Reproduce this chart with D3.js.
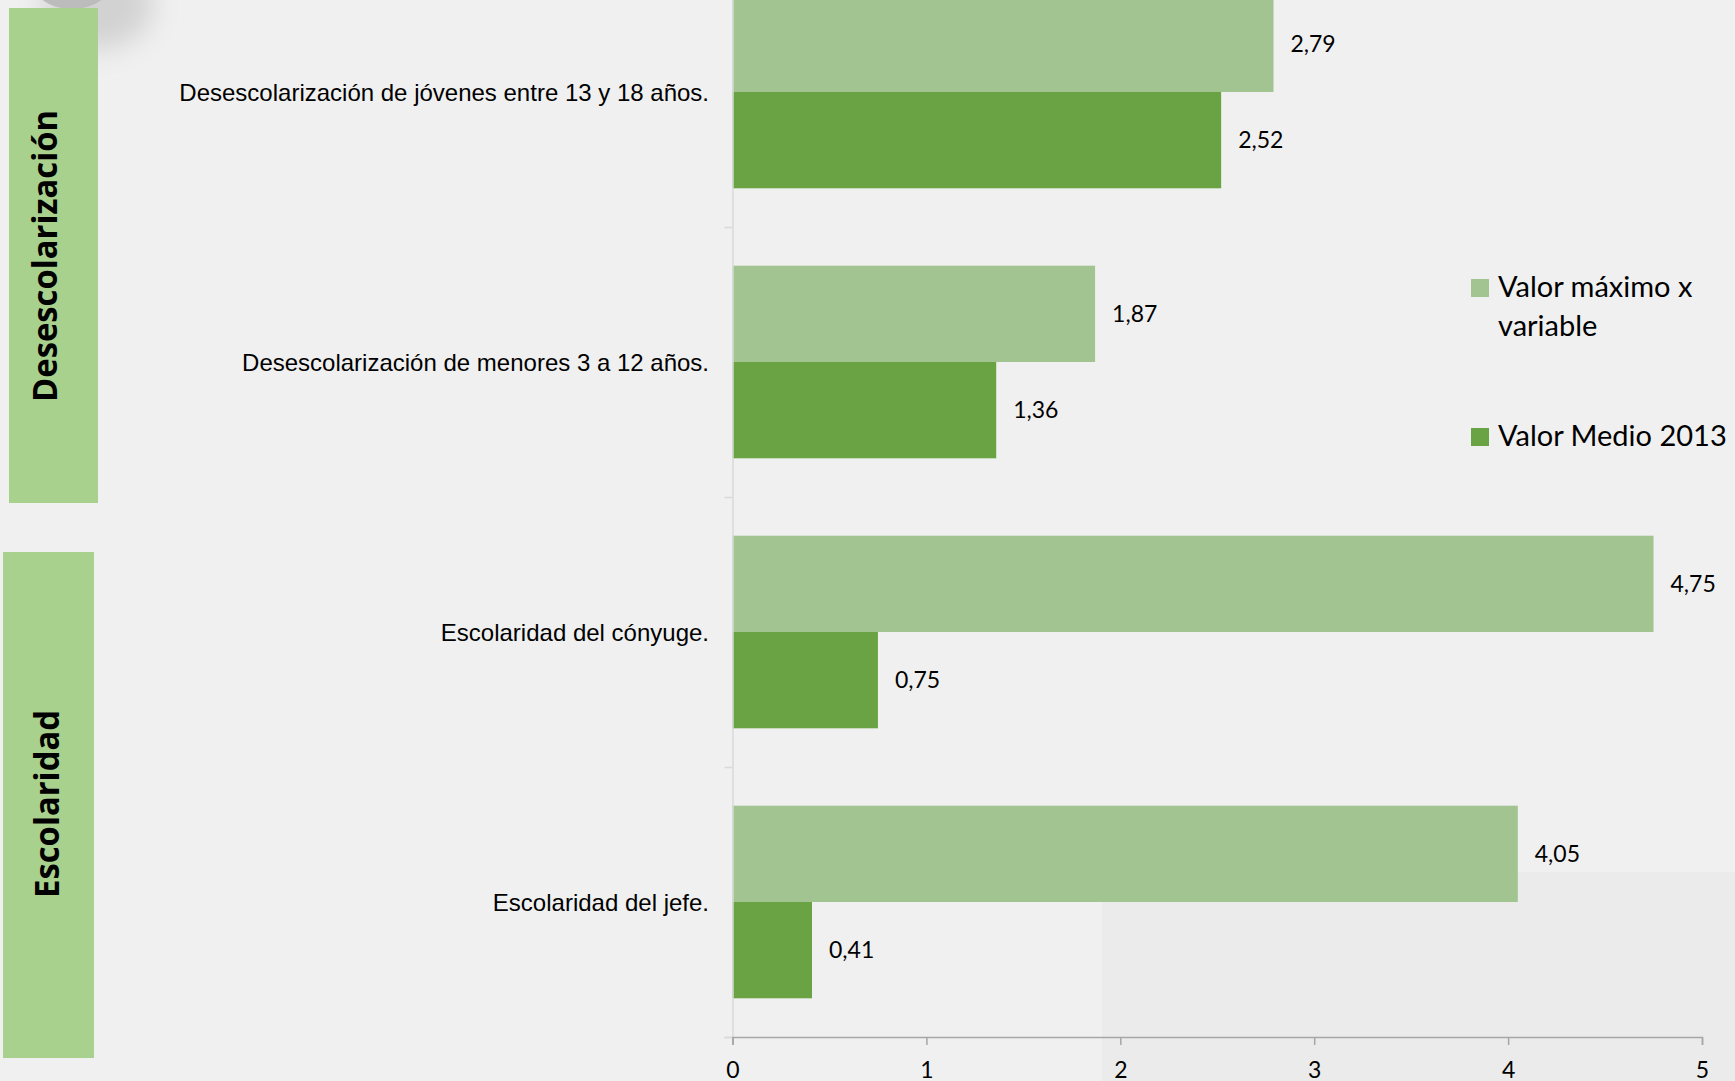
<!DOCTYPE html>
<html>
<head>
<meta charset="utf-8">
<script src="https://cdn.jsdelivr.net/npm/d3@7"></script>
<style>
  html, body { margin: 0; padding: 0; background: #f0f0f0; overflow: hidden; }
  svg { display: block; }
</style>
</head>
<body>
<svg id="chart" width="1735" height="1081"></svg>
<script>
// ---- data ----
const categories = [
  "Desescolarización de jóvenes entre 13 y 18 años.",
  "Desescolarización de menores 3 a 12 años.",
  "Escolaridad del cónyuge.",
  "Escolaridad del jefe."
];
const seriesNames = ["Valor máximo x variable", "Valor Medio 2013"];
const valorMaximo = [2.79, 1.87, 4.75, 4.05];
const valorMedio = [2.52, 1.36, 0.75, 0.41];
const xTicks = [0, 1, 2, 3, 4, 5];
const groupLabels = ["Desescolarización", "Escolaridad"];

// ---- setup ----
const W = 1735, H = 1081;
const svg = d3.select("#chart");
const colors = { [seriesNames[0]]: "#a2c490", [seriesNames[1]]: "#69a343" };
const boxColor = "#a9d18e";

// background
svg.append("rect").attr("x", 0).attr("y", 0).attr("width", W).attr("height", H).attr("fill", "#f0f0f0");
svg.append("rect").attr("x", 1102).attr("y", 872).attr("width", W - 1102).attr("height", H - 872).attr("fill", "#ebebeb");

// decorative shadowed shape in top-left corner
const defs = svg.append("defs");
const blur = defs.append("filter").attr("id", "blur").attr("x", "-50%").attr("y", "-50%").attr("width", "200%").attr("height", "200%");
blur.append("feGaussianBlur").attr("stdDeviation", 14);
svg.append("ellipse").attr("cx", 98).attr("cy", 4).attr("rx", 55).attr("ry", 45)
  .attr("fill", "#d2d2d2").attr("filter", "url(#blur)");
svg.append("ellipse").attr("cx", 72).attr("cy", -22).attr("rx", 42).attr("ry", 31)
  .attr("fill", "#bcbcbc");

// scales
const x = d3.scaleLinear().domain([0, 5]).range([732.5, 1702]);
const y0 = d3.scaleBand().domain(categories).range([-43, 1037]).padding(0);
const y1 = d3.scaleBand().domain(seriesNames).range([0, y0.bandwidth()]).paddingInner(0).paddingOuter(0.402);
const yIdx = d3.scaleLinear().domain([0, categories.length]).range([-43, 1037]);

// left group boxes
const boxes = [
  { label: groupLabels[0], x: 9, y: 8, w: 89, h: 495, tx: 57, ty: 256, len: 292 },
  { label: groupLabels[1], x: 3, y: 552, w: 91, h: 506, tx: 59, ty: 804, len: 188 }
];
svg.selectAll("rect.box").data(boxes).join("rect").attr("class", "box")
  .attr("x", d => d.x).attr("y", d => d.y).attr("width", d => d.w).attr("height", d => d.h)
  .attr("fill", boxColor);
svg.selectAll("text.boxlabel").data(boxes).join("text").attr("class", "boxlabel")
  .attr("transform", d => `translate(${d.tx},${d.ty}) rotate(-90)`)
  .attr("text-anchor", "middle")
  .attr("font-family", "'Open Sans', sans-serif").attr("font-weight", 700).attr("font-size", 34)
  .attr("textLength", d => d.len).attr("lengthAdjust", "spacingAndGlyphs")
  .attr("fill", "#000").text(d => d.label);

// bars
const rows = categories.map((c, i) => ({ cat: c, vals: [
  { s: seriesNames[0], v: valorMaximo[i] },
  { s: seriesNames[1], v: valorMedio[i] }
]}));
const g = svg.append("g");
const grp = g.selectAll("g.grp").data(rows).join("g").attr("class", "grp")
  .attr("transform", d => `translate(0,${y0(d.cat)})`);
grp.selectAll("rect").data(d => d.vals).join("rect")
  .attr("x", x(0)).attr("y", d => y1(d.s))
  .attr("width", d => x(d.v) - x(0)).attr("height", y1.bandwidth())
  .attr("fill", d => colors[d.s]);
const fmt = v => d3.format(".2f")(v).replace(".", ",");
grp.selectAll("text.val").data(d => d.vals).join("text").attr("class", "val")
  .attr("x", d => x(d.v) + 17).attr("y", d => y1(d.s) + y1.bandwidth() / 2)
  .attr("dy", "0.36em")
  .attr("font-family", "Lato, sans-serif").attr("font-size", 23).attr("fill", "#000")
  .text(d => fmt(d.v));

// category labels
svg.selectAll("text.cat").data(categories).join("text").attr("class", "cat")
  .attr("x", 709).attr("y", d => y0(d) + y0.bandwidth() / 2).attr("dy", "0.36em")
  .attr("text-anchor", "end")
  .attr("font-family", "'Liberation Sans', Arial, sans-serif").attr("font-size", 24).attr("fill", "#000")
  .text(d => d);

// y axis (category boundaries)
const yAxis = svg.append("g").attr("transform", `translate(${x(0)},0)`)
  .call(d3.axisLeft(yIdx).tickValues(d3.range(0, categories.length + 1)).tickSize(8).tickFormat(""));
yAxis.selectAll("path, line").attr("stroke", "#d9d9d9").attr("stroke-width", 1.5);

// x axis
const xAxis = svg.append("g").attr("transform", `translate(0,${yIdx(categories.length)})`)
  .call(d3.axisBottom(x).tickValues(xTicks).tickSize(8).tickPadding(17).tickFormat(d3.format("d")));
xAxis.select(".domain").attr("stroke", "#a6a6a6").attr("stroke-width", 1.5);
xAxis.selectAll(".tick line").attr("stroke", "#a6a6a6").attr("stroke-width", 1.5);
xAxis.selectAll(".tick text").attr("font-family", "Lato, sans-serif").attr("font-size", 23).attr("fill", "#000");

// legend
const legend = [
  { s: seriesNames[0], lines: ["Valor máximo x", "variable"], sy: 279, by: 297 },
  { s: seriesNames[1], lines: ["Valor Medio 2013"], sy: 428, by: 446 }
];
const lg = svg.selectAll("g.leg").data(legend).join("g").attr("class", "leg");
lg.append("rect").attr("x", 1471).attr("y", d => d.sy).attr("width", 18).attr("height", 18)
  .attr("fill", d => colors[d.s]);
lg.append("text").attr("font-family", "Lato, sans-serif").attr("font-size", 29).attr("fill", "#000")
  .selectAll("tspan").data(d => d.lines.map((t, i) => ({ t, i, by: d.by }))).join("tspan")
  .attr("x", 1498).attr("y", d => d.by + d.i * 39).text(d => d.t);
</script>
</body>
</html>
